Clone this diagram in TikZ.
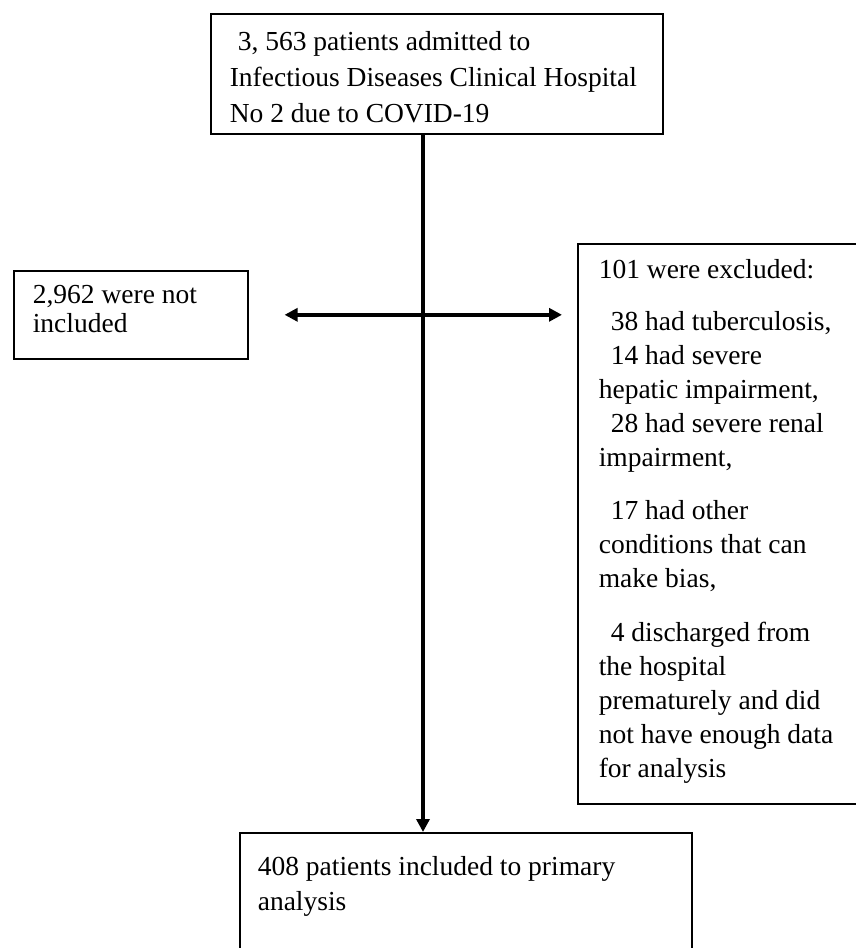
\documentclass[tikz,border=0pt]{standalone}
\usepackage{fontspec}
\setmainfont{Liberation Serif}
\usetikzlibrary{arrows.meta}

\begin{document}
\begin{tikzpicture}[x=1pt,y=1pt]
  \tikzset{BoxStyle/.style  = {draw,
                               line width   = 1.6pt,
                               anchor       = north west,
                               inner xsep   = 19pt},
           FlowStyle/.style = {line width   = 3.6pt,
                               >            = {Triangle[length=13pt,width=13pt]}}}
  \useasboundingbox (0,0) rectangle (856,-948);
	%%% ADMITTED %%%
	\node[BoxStyle, inner ysep=18pt, font=\fontsize{27.5}{36}\selectfont] (top) at (210,-13)
	  {\parbox[t][84pt][t]{414pt}{\raggedright\hspace*{8pt}3, 563 patients admitted to\\
	   Infectious Diseases Clinical Hospital\\No 2 due to COVID-19}};
	%%% NOT INCLUDED %%%
	\node[BoxStyle, inner ysep=14pt, font=\fontsize{27.5}{29}\selectfont] (notin) at (13,-270)
	  {\parbox[t][60pt][t]{196pt}{\raggedright 2,962 were not\\included}};
	%%% EXCLUDED %%%
	\node[BoxStyle, inner ysep=16pt, inner xsep=21pt, font=\fontsize{27.5}{34}\selectfont] (excl) at (577,-243)
	  {\parbox[t][528pt][t]{258pt}{\raggedright 101 were excluded:\\[18pt]
	   \hspace*{12pt}38 had tuberculosis,\\
	   \hspace*{12pt}14 had severe\\
	   hepatic impairment,\\
	   \hspace*{12pt}28 had severe renal\\
	   impairment,\\[19pt]
	   \hspace*{12pt}17 had other\\
	   conditions that can\\
	   make bias,\\[20pt]
	   \hspace*{12pt}4 discharged from\\
	   the hospital\\
	   prematurely and did\\
	   not have enough data\\
	   for analysis}};
	%%% INCLUDED %%%
	\node[BoxStyle, inner ysep=24pt, inner xsep=18pt, font=\fontsize{27.5}{35}\selectfont] (incl) at (239,-832)
	  {\parbox[t][102pt][t]{416pt}{\raggedright 408 patients included to primary\\analysis}};
	%
	\coordinate (spine) at (423,0);
	\draw[FlowStyle, ->] (top.south -| spine) -- (incl.north -| spine);
	\draw[FlowStyle, <->, shorten <=36pt, shorten >=15pt] (notin.east) -- (notin.east -| excl.west);
\end{tikzpicture}
\end{document}
